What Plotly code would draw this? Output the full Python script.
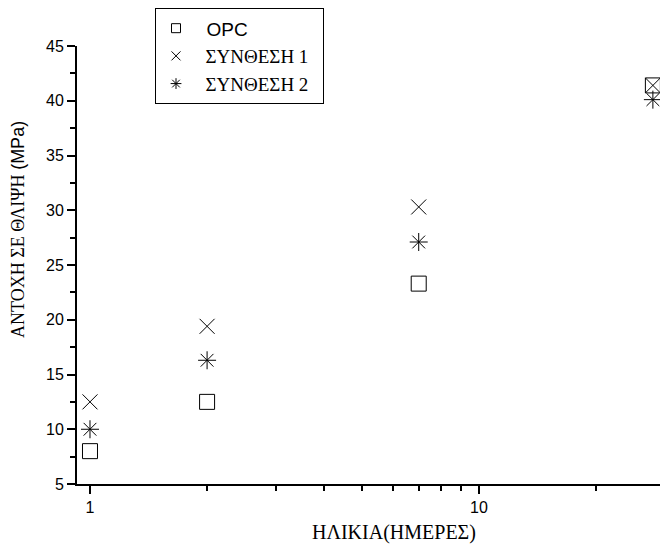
import plotly.graph_objects as go

days = [1, 2, 7, 28]
opc = [8.0, 12.5, 23.3, 41.4]
synth1 = [12.5, 19.4, 30.3, 41.4]
synth2 = [10.0, 16.3, 27.1, 40.1]
names = ["OPC", "ΣΥΝΘΕΣΗ 1", "ΣΥΝΘΕΣΗ 2"]
symbols = ["square-open", "x-thin-open", "asterisk-open"]
x_title = "ΗΛΙΚΙΑ(ΗΜΕΡΕΣ)"
y_title_greek = "ΑΝΤΟΧΗ ΣΕ ΘΛΙΨΗ"
y_title_unit = "(MPa)"

SERIF = "Liberation Serif"
SANS = "Liberation Sans"

fig = go.Figure()
for vals, nm, sym in zip([opc, synth1, synth2], names, symbols):
    fig.add_trace(go.Scatter(x=days, y=vals, mode="markers", showlegend=False,
                             marker=dict(symbol=sym, size=15, color="black",
                                         line=dict(color="black", width=1))))
for nm, sym in zip(names, symbols):
    if nm == "OPC":
        label = "&nbsp;&nbsp;" + nm
    else:
        label = f"<span style='font-family:{SERIF}'>&nbsp;&nbsp;{nm}&nbsp;&nbsp;</span>"
    fig.add_trace(go.Scatter(x=[None], y=[None], mode="markers", name=label,
                             marker=dict(symbol=sym, size=9, color="black",
                                         line=dict(color="black", width=1))))

fig.update_layout(
    width=660, height=544,
    margin=dict(l=69, r=0, t=36, b=68),
    paper_bgcolor="white", plot_bgcolor="white",
    font=dict(family=SANS, color="black", size=16),
    showlegend=True,
    legend=dict(x=0.132, y=1.086, xanchor="left", yanchor="top",
                bordercolor="black", borderwidth=1, bgcolor="white",
                font=dict(size=19, family=SANS), itemwidth=30),
    xaxis=dict(type="log", range=[-0.0334, 1.486],
               tickvals=[1, 10], ticktext=["1", "10"],
               ticks="outside", ticklen=8, tickwidth=1.5, tickcolor="black",
               showline=True, linecolor="black", linewidth=2,
               showgrid=False, zeroline=False,
               minor=dict(tickvals=[2, 3, 4, 5, 6, 7, 8, 9, 20, 30], ticks="outside",
                          ticklen=5, tickwidth=1.5, tickcolor="black", showgrid=False)),
    yaxis=dict(range=[5, 45], tickvals=[5, 10, 15, 20, 25, 30, 35, 40, 45],
               ticks="outside", ticklen=8, tickwidth=1.5, tickcolor="black",
               showline=True, linecolor="black", linewidth=2,
               showgrid=False, zeroline=False,
               minor=dict(dtick=2.5, ticks="outside", ticklen=5, tickwidth=1.5,
                          tickcolor="black", showgrid=False)),
    annotations=[
        dict(text=x_title,
             xref="paper", yref="paper", x=0.536, y=-0.111,
             xanchor="center", yanchor="middle", showarrow=False,
             font=dict(size=20, family=SERIF)),
        dict(text=f"{y_title_greek} <span style='font-family:{SANS}'>{y_title_unit}</span>",
             xref="paper", yref="paper", x=-0.0998, y=0.58, textangle=-90,
             xanchor="center", yanchor="middle", showarrow=False,
             font=dict(size=18, family=SERIF)),
    ],
)

fig.write_html("out.html")
